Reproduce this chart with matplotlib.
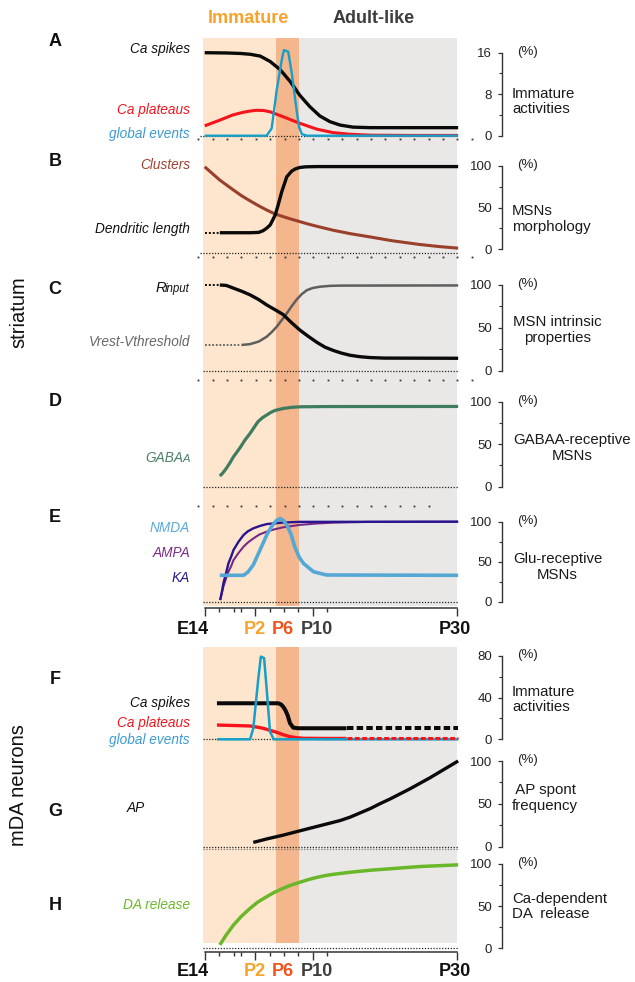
import numpy as np
import matplotlib.pyplot as plt
from matplotlib.ticker import MultipleLocator

plt.rcParams['font.family'] = ['Liberation Sans', 'DejaVu Sans']

# ---- data: x in postnatal days (E14 sits at -5 on this axis) ----
period_edges = [-5.2, 4.9, 8.05, 30.0]
period_colors = ['#fde6cd', '#f4b68c', '#e9e8e6']

tick_days = [-5, 2, 6, 10, 30]
tick_labels = ['E14', 'P2', 'P6', 'P10', 'P30']
tick_colors = ['#111111', '#f9a22b', '#f2521b', '#3d3d3d', '#111111']
major_tick_days = [-5, 2, 10, 30]
minor_tick_days = [-3, -1, 0, 4, 6, 8, 12]

# A - striatum immature activities (%)
a_spikes_x = [-5.0, -2.0, 0.0, 1.3, 2.7, 4.1, 5.5, 6.9, 8.2, 9.6, 11.0, 12.4, 13.8, 15.6, 18.0, 30.2]
a_spikes_y = [16.0, 15.95, 15.85, 15.7, 15.35, 14.3, 12.7, 10.4, 7.8, 5.6, 3.8, 2.7, 2.05, 1.65, 1.55, 1.55]
a_plateau_x = [-5.0, -2.9, -1.1, 0.3, 1.3, 2.2, 3.2, 4.1, 5.9, 8.2, 10.6, 12.8, 15.2, 18.0, 24.0, 30.2]
a_plateau_y = [1.9, 3.0, 4.0, 4.5, 4.75, 4.9, 4.85, 4.6, 3.65, 2.4, 1.25, 0.6, 0.28, 0.1, 0.05, 0.05]
a_global_x = [-5.0, 3.6, 4.3, 5.0, 5.7, 6.0, 6.6, 7.1, 7.7, 8.1, 8.5, 9.2, 30.2]
a_global_y = [0, 0, 1.4, 8.8, 14.6, 16.5, 16.2, 12.0, 5.6, 1.7, 0.3, 0, 0]

# B - MSN morphology
b_clusters_x = [-5.0, -2.9, -1.0, 0.15, 1.3, 2.4, 3.6, 4.7, 5.9, 7.0, 8.2, 9.4, 10.6, 12.9, 15.2, 18.0, 21.0, 24.8, 27.5, 30.2]
b_clusters_y = [99, 83, 71, 64, 58, 52.5, 47, 42.5, 39, 36, 33, 30, 27.3, 22.5, 18.5, 14.5, 10, 5.5, 3, 1]
b_dend_x = [-2.9, 1.3, 2.5, 3.1, 3.6, 4.1, 4.8, 5.2, 5.7, 6.4, 7.1, 7.6, 8.2, 9.0, 10.6, 30.2]
b_dend_y = [19.6, 19.6, 20, 22, 25, 29, 41, 53, 69, 87, 94, 96.5, 98.2, 99, 99.3, 99.3]
b_dend_pre_x = [-5.0, -2.9]
b_dend_pre_y = [19.6, 19.6]

# C - MSN intrinsic properties
c_rin_x = [-2.9, -2.0, -1.0, 0.2, 1.3, 2.5, 3.6, 4.8, 5.9, 7.0, 8.2, 9.4, 10.6, 11.7, 12.9, 14.0, 15.2, 16.6, 18.0, 20.0, 30.2]
c_rin_y = [100, 99.5, 96.3, 92.5, 88.5, 83, 76.8, 71, 65.5, 56.5, 47.5, 40, 33, 27.5, 23.5, 20.5, 18, 16.3, 15.3, 14.7, 14.5]
c_rin_pre_x = [-5.0, -2.9]
c_rin_pre_y = [100, 100]
c_vrest_x = [0.1, 1.3, 2.5, 3.6, 4.3, 5.0, 5.7, 6.4, 7.1, 7.8, 8.5, 9.2, 10.0, 11.0, 12.4, 13.8, 30.2]
c_vrest_y = [30, 31, 34, 39.6, 45, 51.3, 59, 66.9, 75.5, 83.3, 89.5, 94, 96.5, 98, 99, 99.3, 99.5]
c_vrest_pre_x = [-5.0, 0.1]
c_vrest_pre_y = [30, 30]

# D - GABAA-receptive MSNs
d_gaba_x = [-2.9, -2.5, -2.0, -1.5, -1.0, -0.5, 0.0, 0.6, 1.3, 1.8, 2.4, 3.0, 3.6, 4.2, 4.8, 5.9, 7.0, 8.2, 12.0, 30.2]
d_gaba_y = [12.6, 16, 21.6, 28, 35.3, 41, 47, 55, 62.7, 69, 76.5, 81, 84.3, 87.5, 89.8, 92, 93.3, 94, 94.3, 94.4]

# E - Glu-receptive MSNs
e_ka_x = [-2.85, -2.6, -2.4, -2.0, -1.7, -1.3, -1.0, -0.3, 0.4, 1.0, 1.75, 2.6, 3.6, 5.9, 8.2, 30.2]
e_ka_y = [2, 13, 23, 37, 48, 57, 64.6, 75, 83.4, 88, 91.7, 94.5, 97, 99, 99.8, 100]
e_ampa_x = [-2.85, -2.4, -2.0, -1.7, -1.3, -1.0, -0.3, 0.4, 1.0, 1.75, 2.6, 3.6, 4.7, 5.9, 8.2, 10.5, 12.8, 18.0, 30.2]
e_ampa_y = [2, 19, 30, 37.5, 45, 52, 61, 68.8, 74, 79, 84, 87.5, 90.5, 93, 96, 97.7, 98.8, 99.8, 100]
e_nmda_x = [-2.9, 0.4, 1.0, 1.75, 2.4, 3.1, 3.7, 4.3, 4.9, 5.5, 6.0, 6.4, 7.0, 7.5, 8.1, 8.7, 10.1, 11.9, 30.2]
e_nmda_y = [33, 33, 37, 46, 59, 73, 85, 94, 101, 104, 101, 96, 84, 69, 56, 48, 37.5, 33.4, 33]

# F - mDA immature activities (%)
f_spikes_x = [-3.3, 5.2, 5.6, 5.9, 6.2, 6.5, 6.85, 7.3, 8.0, 14.7]
f_spikes_y = [34.6, 34.6, 33.5, 31.3, 28, 23.4, 15.4, 11.2, 10.6, 10.6]
f_spikes_late_x = [14.7, 30.2]
f_spikes_late_y = [10.6, 10.6]
f_plateau_x = [-3.3, 1.3, 2.2, 3.1, 4.0, 5.0, 5.9, 6.85, 7.8, 8.7, 11.9, 14.7]
f_plateau_y = [13.7, 12.8, 11.8, 10.6, 8.8, 6.7, 4.4, 2.5, 1.5, 1.0, 0.8, 0.8]
f_plateau_late_x = [14.7, 30.2]
f_plateau_late_y = [0.8, 0.8]
f_global_x = [-3.3, 1.3, 1.75, 2.45, 2.8, 3.25, 3.6, 4.07, 4.6, 30.2]
f_global_y = [0, 0, 10.6, 58.6, 79.4, 78, 49, 7.3, 0, 0]

# G - AP spontaneous frequency
g_ap_x = [1.75, 3.6, 5.9, 8.2, 11.0, 13.8, 15.2, 16.6, 18.0, 19.3, 20.7, 22.1, 23.5, 24.9, 26.3, 27.6, 28.9, 30.2]
g_ap_y = [5, 9, 13.5, 18.5, 24.5, 30.5, 34.5, 39.5, 44.5, 50, 55.5, 61.5, 67.5, 74, 80.5, 87, 93.5, 100]

# H - Ca-dependent DA release
h_da_x = [-2.9, -2.0, -1.0, 0.1, 1.3, 2.4, 3.6, 4.7, 5.9, 7.0, 8.2, 9.4, 10.6, 11.7, 12.9, 15.2, 18.0, 21.0, 24.9, 30.2]
h_da_y = [4, 16, 27.6, 38, 47.4, 55, 61.2, 66.5, 71.2, 75, 78.3, 81.5, 84.2, 86.2, 87.8, 90.2, 92.6, 94.5, 97, 99]

# ---- layout (pixels of a 635x982 canvas) ----
W, H = 635, 982
fig = plt.figure(figsize=(W / 100, H / 100), dpi=100)

P0_PX, PX_DAY = 240.7, 7.2
LEFT_PX, SPINE_PX = 200, 502
XLIM = ((LEFT_PX - P0_PX) / PX_DAY, (SPINE_PX - P0_PX) / PX_DAY)
AXIS_COL = '#333333'


def box(top, bottom, left=LEFT_PX, right=SPINE_PX):
    return [left / W, 1 - bottom / H, (right - left) / W, (bottom - top) / H]


def ftext(px, py, s, **kw):
    return fig.text(px / W, 1 - py / H, s, **kw)


def stage_background(top, shade_bottom, axis_y, label_y):
    ax = fig.add_axes(box(top, axis_y), zorder=0)
    ax.set_xlim(XLIM)
    ax.set_ylim(0, 1)
    ax.patch.set_visible(False)
    frac = (axis_y - shade_bottom) / (axis_y - top)
    for lo, hi, c in zip(period_edges[:-1], period_edges[1:], period_colors):
        ax.axvspan(lo, hi, ymin=frac, ymax=1, color=c, lw=0)
    for s in ['left', 'right', 'top']:
        ax.spines[s].set_visible(False)
    ax.spines['bottom'].set_bounds(tick_days[0], tick_days[-1])
    ax.spines['bottom'].set_color(AXIS_COL)
    ax.spines['bottom'].set_linewidth(1.1)
    ax.set_yticks([])
    ax.set_xticks(major_tick_days)
    ax.set_xticks(minor_tick_days, minor=True)
    ax.set_xticklabels([])
    ax.tick_params(axis='x', which='major', length=5.5, width=1, color=AXIS_COL)
    ax.tick_params(axis='x', which='minor', length=3, width=1, color=AXIS_COL)
    shifts = [-1.7, 0.0, -0.1, 0.55, -0.2]
    for d, lab, c, dx in zip(tick_days, tick_labels, tick_colors, shifts):
        ftext(P0_PX + PX_DAY * (d + dx), label_y, lab, ha='center', va='center',
              fontsize=13, fontweight='bold', color=c)
    return ax


def panel(top_px, zero_px, ymax, major, minor):
    ax = fig.add_axes(box(top_px, zero_px), zorder=2)
    ax.set_xlim(XLIM)
    ax.set_ylim(0, ymax)
    ax.patch.set_visible(False)
    for s in ['right', 'top', 'bottom']:
        ax.spines[s].set_visible(False)
    ax.spines['left'].set_position(('axes', 1.0))
    ax.spines['left'].set_color(AXIS_COL)
    ax.spines['left'].set_linewidth(1.0)
    ax.set_xticks([])
    ax.yaxis.set_major_locator(MultipleLocator(major))
    ax.yaxis.set_minor_locator(MultipleLocator(minor))
    ax.tick_params(axis='y', which='major', length=2.6, width=0.9, color=AXIS_COL,
                   labelsize=9.5, pad=4.5, labelcolor='#222222')
    ax.tick_params(axis='y', which='minor', length=2.0, width=0.8, color=AXIS_COL)
    ftext(517, top_px - 1, '(%)', ha='left', va='center', fontsize=9.5, color='#222222')
    ax.px_per_unit = (zero_px - top_px) / ymax
    return ax


def curve(ax, x, y, color, lw, ls='-', z=3):
    ax.plot(x, y, color=color, lw=lw, ls=ls, zorder=z, clip_on=False,
            solid_capstyle='butt', solid_joinstyle='round')


def baseline(ax, x_from=-5.3, x_to=30.2, drop_px=0.0, color='#222222'):
    y = -drop_px / ax.px_per_unit
    ax.hlines(y, x_from, x_to, colors=color, lw=0.9, linestyles=(0, (1, 1.3)),
              zorder=1, clip_on=False)


def dot_row(ax, drop_px, x_to=32.5):
    xs = np.arange(-5.9, x_to, 2.0)
    ax.plot(xs, np.full(len(xs), -drop_px / ax.px_per_unit), ls='none', marker='s',
            ms=1.3, mew=0, color='#333333', zorder=1, clip_on=False)


def left_label(py, s, color, px=190, italic=True, size=9.8):
    ftext(px, py, s, ha='right', va='baseline', fontsize=size, color=color,
          style='italic' if italic else 'normal')


def right_label(px, py, s, ha='left'):
    ftext(px, py, s, ha=ha, va='center', multialignment='center' if ha == 'center' else 'left',
          fontsize=10.8, color='#1a1a1a', linespacing=1.15)


# backgrounds and x axes
stage_background(38.3, 605.5, 608.3, 630)
stage_background(647.3, 942.7, 951.7, 971)

# headers and side labels
ftext(248, 18.5, 'Immature', ha='center', va='center', fontsize=13, fontweight='bold', color='#f9a22b')
ftext(374, 18.5, 'Adult-like', ha='center', va='center', fontsize=13, fontweight='bold', color='#3d3d3d')
ftext(18.5, 312.5, 'striatum', ha='center', va='center', rotation=90, fontsize=14.5, color='#111111')
ftext(19, 785, 'mDA neurons', ha='center', va='center', rotation=90, fontsize=14.5, color='#111111')

for letter, py in zip('ABCDEFGH', [42, 161, 289, 401.7, 517, 680, 812, 906]):
    ftext(55, py, letter, ha='center', va='center', fontsize=13, fontweight='bold', color='#111111')

BLACK = '#0a0a0a'
RED = '#f5141b'
CYAN = '#159fc9'

# A
ax = panel(52.7, 135.7, 16, 8, 4)
baseline(ax, x_from=-5.6)
dot_row(ax, 2.8)
curve(ax, a_spikes_x, a_spikes_y, BLACK, 2.4, z=3)
curve(ax, a_plateau_x, a_plateau_y, RED, 2.2, z=4)
curve(ax, a_global_x, a_global_y, CYAN, 1.7, z=5)
left_label(52.5, 'Ca spikes', '#111111')
left_label(114.3, 'Ca plateaus', RED)
left_label(138.3, 'global events', '#3b9ad2')
right_label(512, 101.5, 'Immature\nactivities')

# B
ax = panel(166, 249, 100, 50, 25)
baseline(ax, x_from=-5.6, drop_px=3.7)
dot_row(ax, 7.7)
curve(ax, b_clusters_x, b_clusters_y, '#9a3f2a', 2.2, z=3)
curve(ax, b_dend_pre_x, b_dend_pre_y, BLACK, 1.4, ls=(0, (1, 1)), z=4)
curve(ax, b_dend_x, b_dend_y, BLACK, 2.4, z=4)
left_label(169.3, 'Clusters', '#a0402e')
left_label(233.3, 'Dendritic length', '#111111')
right_label(512, 218.7, 'MSNs\nmorphology')

# C
ax = panel(285, 370.7, 100, 50, 25)
baseline(ax)
dot_row(ax, 9.7)
curve(ax, c_vrest_pre_x, c_vrest_pre_y, '#5e5e5e', 1.3, ls=(0, (1, 1)), z=3)
curve(ax, c_vrest_x, c_vrest_y, '#5e5e5e', 1.8, z=3)
curve(ax, c_rin_pre_x, c_rin_pre_y, BLACK, 1.4, ls=(0, (1, 1)), z=4)
curve(ax, c_rin_x, c_rin_y, BLACK, 2.4, z=4)
left_label(291.7, 'input', '#111111', size=8.3)
left_label(291.7, 'R', '#111111', px=165.8, size=10.5)
left_label(346, 'Vrest-Vthreshold', '#666666')
right_label(557.5, 330, 'MSN intrinsic\nproperties', ha='center')

# D
ax = panel(401.7, 486.7, 100, 50, 25)
baseline(ax)
dot_row(ax, 18.8, x_to=27)
curve(ax, d_gaba_x, d_gaba_y, '#3e7b5f', 2.3)
left_label(462, 'A', '#4a7f65', size=8.0)
left_label(462, 'GABA', '#4a7f65', px=183.5)
right_label(572.5, 447.7, 'GABAA-receptive\nMSNs', ha='center')

# E
ax = panel(521.7, 601.7, 100, 50, 25)
baseline(ax)
curve(ax, e_ampa_x, e_ampa_y, '#752a85', 1.5, z=3)
curve(ax, e_ka_x, e_ka_y, '#2a1590', 1.7, z=4)
curve(ax, e_nmda_x, e_nmda_y, '#55a8d5', 2.6, z=5)
left_label(531.7, 'NMDA', '#5aa9d6')
left_label(557.3, 'AMPA', '#7a2c86')
left_label(582.3, 'KA', '#2b1a8f')
right_label(557.5, 567, 'Glu-receptive\nMSNs', ha='center')

# F
ax = panel(656, 739.3, 80, 40, 20)
baseline(ax, x_from=-5.3)
curve(ax, f_spikes_x, f_spikes_y, BLACK, 2.9, z=3)
curve(ax, f_spikes_late_x, f_spikes_late_y, BLACK, 2.9, ls=(0, (1.6, 0.8)), z=3)
curve(ax, f_plateau_x, f_plateau_y, RED, 2.4, z=4)
curve(ax, f_global_x, f_global_y, CYAN, 1.8, z=5)
curve(ax, f_plateau_late_x, f_plateau_late_y, RED, 2.2, ls=(0, (1.6, 0.8)), z=6)
left_label(706.7, 'Ca spikes', '#111111')
left_label(727.3, 'Ca plateaus', RED)
left_label(744.3, 'global events', '#3b9ad2')
right_label(512, 699.5, 'Immature\nactivities')

# G
ax = panel(761, 846.7, 100, 50, 25)
baseline(ax)
baseline(ax, drop_px=1.8, color='#777777')
curve(ax, g_ap_x, g_ap_y, BLACK, 2.4)
left_label(811.7, 'AP', '#111111', px=145)
right_label(512, 798, ' AP spont\nfrequency')

# H
ax = panel(864, 948.3, 100, 50, 25)
baseline(ax)
curve(ax, h_da_x, h_da_y, '#6ab82a', 2.5)
left_label(909.3, 'DA release', '#6ab82a')
right_label(512, 906.5, 'Ca-dependent\nDA  release')

fig.savefig('out.png', dpi=100)
